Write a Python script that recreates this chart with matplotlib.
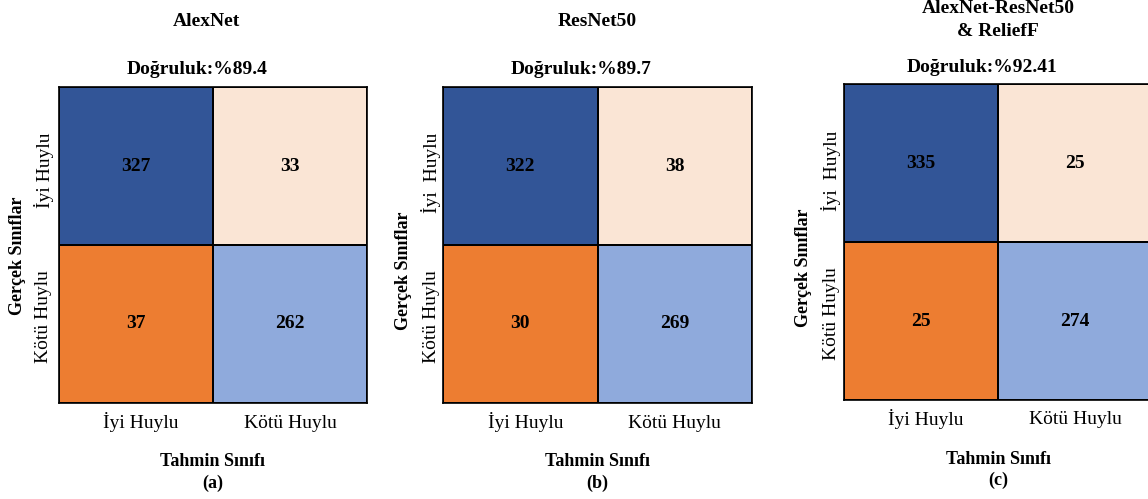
import matplotlib
matplotlib.use("Agg")
import matplotlib.pyplot as plt
from matplotlib.colors import ListedColormap
import numpy as np

plt.rcParams['font.family'] = ['Liberation Serif', 'DejaVu Serif']

# Confusion matrices (rows: true class, cols: predicted class)
models = ["AlexNet", "ResNet50", "AlexNet-ResNet50\n& ReliefF"]
accuracy_labels = ["Doğruluk:%89.4", "Doğruluk:%89.7", "Doğruluk:%92.41"]
panel_tags = ["(a)", "(b)", "(c)"]
class_names = ["İyi Huylu", "Kötü Huylu"]
ytick_top = ["İyi Huylu", "İyi  Huylu", "İyi  Huylu"]
alexnet_cm = [[327, 33], [37, 262]]
resnet_cm = [[322, 38], [30, 269]]
fusion_cm = [[335, 25], [25, 274]]
matrices = [alexnet_cm, resnet_cm, fusion_cm]

# Cell roles: TP, FN, FP, TN
cell_colors = ["#325597", "#FAE5D5", "#ED7D31", "#8FAADC"]
cmap = ListedColormap(cell_colors)
role = np.array([[0, 1], [2, 3]])

W, H = 1148, 499
fig = plt.figure(figsize=(W / 100, H / 100), dpi=100)

# axes boxes in pixels: left, top, width, height
boxes = [(59, 87, 308, 316), (443, 87, 309, 316), (844, 84, 308, 316)]
tick_x = [44, 431, 831]
ylab_x = [18, 403, 803]
ylab_dy = [11, 26, 26]
ytick_top_y = [83, 86, 87]
ytick_bot_y = [230, 230, 230]
title_y = [22, 22, 20]

for i, (cm, box) in enumerate(zip(matrices, boxes)):
    l, t, w, h = box
    ax = fig.add_axes([l / W, 1 - (t + h) / H, w / W, h / H])
    ax.pcolormesh(role, cmap=cmap, vmin=-0.5, vmax=3.5,
                  edgecolors="black", linewidth=1.2)
    ax.set_xlim(0, 2)
    ax.set_ylim(2, 0)
    for r in range(2):
        for c in range(2):
            ax.text(c + 0.5, r + 0.5, str(cm[r][c]), ha="center", va="center",
                    fontsize=14, fontweight="bold", color="black")
    ax.set_xticks([])
    ax.set_yticks([])
    for s in ax.spines.values():
        s.set_linewidth(1.2)

    cx = l + w / 2
    # x tick labels
    fig.text((l + w * 0.25 + 5) / W, 1 - (t + 335) / H, class_names[0],
             ha="center", va="center", fontsize=14)
    fig.text((l + w * 0.75) / W, 1 - (t + 336) / H, class_names[1],
             ha="center", va="center", fontsize=14)
    # y tick labels
    fig.text(tick_x[i] / W, 1 - (t + ytick_top_y[i]) / H, ytick_top[i],
             ha="center", va="center", rotation=90, fontsize=14)
    fig.text(tick_x[i] / W, 1 - (t + ytick_bot_y[i]) / H, class_names[1],
             ha="center", va="center", rotation=90, fontsize=14)
    # y axis label
    fig.text(ylab_x[i] / W, 1 - (t + h / 2 + ylab_dy[i]) / H, "Gerçek Sınıflar",
             ha="center", va="center", rotation=90, fontsize=13, fontweight="bold")
    # x axis label and panel tag
    fig.text(cx / W, 1 - (t + 375) / H, "Tahmin Sınıfı",
             ha="center", va="center", fontsize=13, fontweight="bold")
    fig.text(cx / W, 1 - (t + 396) / H, panel_tags[i],
             ha="center", va="center", fontsize=13, fontweight="bold")
    # titles
    fig.text((cx - 16) / W, 1 - (t - 17) / H, accuracy_labels[i],
             ha="center", va="center", fontsize=14, fontweight="bold")
    fig.text((cx - 7 if i == 0 else cx) / W, 1 - title_y[i] / H,
             models[i], ha="center", va="center", fontsize=14, fontweight="bold",
             linespacing=1.45)

fig.savefig("out.png", dpi=100)
